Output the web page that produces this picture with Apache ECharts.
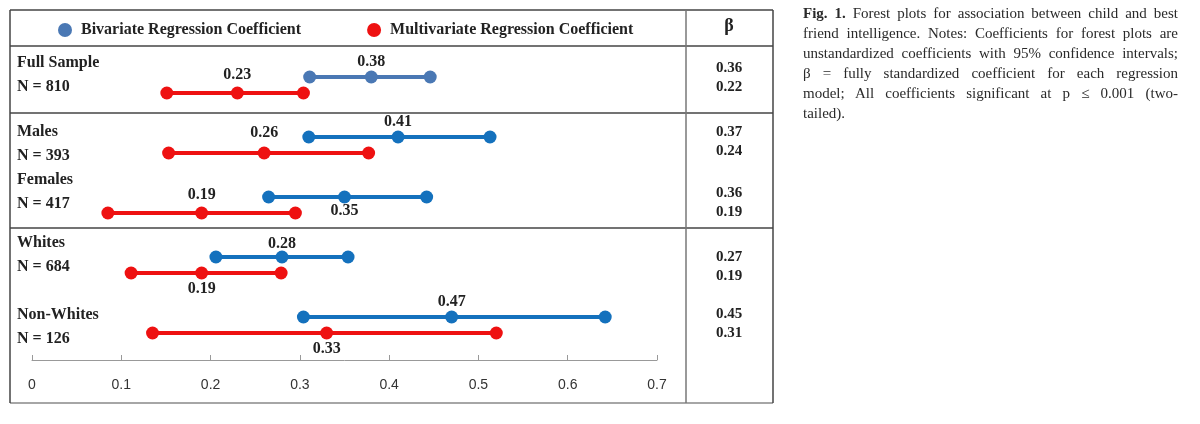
<!DOCTYPE html>
<html>
<head>
<meta charset="utf-8">
<script src="https://cdn.jsdelivr.net/npm/echarts@6/dist/echarts.min.js"></script>
<style>
body{margin:0;background:#fff;}
#main{position:absolute;left:0;top:0;width:1200px;height:424px;}
#cap{position:absolute;left:803px;top:3px;width:375px;font-family:'Liberation Serif','Times New Roman',serif;font-size:15px;line-height:20px;color:#2a2a2a;}
#cap div{white-space:nowrap;text-align:justify;text-align-last:justify;}
#cap div.last{text-align-last:left;}
</style>
</head>
<body>
<div id="main"></div>
<div id="cap">
<div><b>Fig. 1.</b> Forest plots for association between child and best</div>
<div>friend intelligence. Notes: Coefficients for forest plots are</div>
<div>unstandardized coefficients with 95% confidence intervals;</div>
<div>β = fully standardized coefficient for each regression</div>
<div>model; All coefficients significant at p ≤ 0.001 (two-</div>
<div class="last">tailed).</div>
</div>
<script>
// rows of the forest plot
var groups = ['Full Sample', 'Males', 'Females', 'Whites', 'Non-Whites'];
var sizes = ['N = 810', 'N = 393', 'N = 417', 'N = 684', 'N = 126'];

// bivariate coefficient with 95% CI
var bivEst = [0.38, 0.41, 0.35, 0.28, 0.47];
var bivLo = [0.311, 0.310, 0.265, 0.206, 0.304];
var bivHi = [0.446, 0.513, 0.442, 0.354, 0.642];

// multivariate coefficient with 95% CI
var multiEst = [0.23, 0.26, 0.19, 0.19, 0.33];
var multiLo = [0.151, 0.153, 0.085, 0.111, 0.135];
var multiHi = [0.304, 0.377, 0.295, 0.279, 0.520];

// standardized beta column
var betaBiv = ['0.36', '0.37', '0.36', '0.27', '0.45'];
var betaMulti = ['0.22', '0.24', '0.19', '0.19', '0.31'];

// label placement (style only)
var bivLabelDy = [-15, -15, 14, -13, -15];
var multiLabelDy = [-18, -20, -18, 16, 16];
var rowLabelShift = [-10, -1, -13, -10, 2];
var betaShift = [-7.5, -3.5, -2.5, 1.5, -1.5];

var BLUE_FULL = '#4a78b4';
var BLUE = '#1471bd';
var RED = '#ee1111';
var SERIF = "'Liberation Serif', 'Times New Roman', serif";

var myChart = echarts.init(document.getElementById('main'));

function intervalSeries(name, lo, est, hi, dy, labelDy, colorFn, legendColor) {
	var data = [];
	groups.forEach(function(g, i) {
		data.push([lo[i], est[i], hi[i], i]);
	});
	return {
		name: name,
		type: 'custom',
		itemStyle: {color: legendColor},
		encode: {x: [0, 1, 2], y: 3},
		data: data,
		renderItem: function(params, api) {
			var i = api.value(3);
			var a = api.coord([api.value(0), i]);
			var m = api.coord([api.value(1), i]);
			var b = api.coord([api.value(2), i]);
			var y = a[1] + dy;
			var c = colorFn(i);
			var children = [{
				type: 'line',
				shape: {x1: a[0], y1: y, x2: b[0], y2: y},
				style: {stroke: c, lineWidth: 4}
			}];
			[a, m, b].forEach(function(p) {
				children.push({type: 'circle', shape: {cx: p[0], cy: y, r: 6.5}, style: {fill: c}});
			});
			children.push({
				type: 'text', x: m[0], y: y + labelDy[i],
				style: {
					text: api.value(1).toFixed(2), fill: '#222',
					font: 'bold 16px ' + SERIF, align: 'center', verticalAlign: 'middle'
				}
			});
			return {type: 'group', children: children};
		}
	};
}

// table frame
function hline(y, x1, x2, color) {
	return {type: 'line', shape: {x1: x1, y1: y, x2: x2, y2: y}, style: {stroke: color || '#444', lineWidth: 1.5}, z: -1};
}
function vline(x, y1, y2, color) {
	return {type: 'line', shape: {x1: x, y1: y1, x2: x, y2: y2}, style: {stroke: color || '#444', lineWidth: 1.5}, z: -1};
}
var frame = [
	hline(10, 10, 773), hline(46, 10, 773), hline(113, 10, 773), hline(228, 10, 773),
	hline(403, 10, 773, '#888'),
	vline(10, 10, 403), vline(686, 10, 403, '#777'), vline(773, 10, 403),
	{type: 'text', x: 729, y: 26, style: {text: 'β', font: 'bold 18px ' + SERIF, fill: '#222', align: 'center', verticalAlign: 'middle'}}
];

option = {
	animation: false,
	grid: {left: 32, right: 543, top: 55, height: 300},
	legend: {
		data: ['Bivariate Regression Coefficient', 'Multivariate Regression Coefficient'],
		left: 53, top: 17,
		icon: 'circle',
		itemWidth: 14, itemHeight: 14,
		itemGap: 66,
		textStyle: {fontFamily: SERIF, fontWeight: 'bold', fontSize: 16, color: '#222', padding: [0, 0, 0, 4]}
	},
	xAxis: {
		type: 'value', min: 0, max: 0.7, interval: 0.1, offset: 5,
		axisLine: {show: true, onZero: false, lineStyle: {color: '#999', width: 1}},
		axisTick: {show: true, inside: true, length: 5, lineStyle: {color: '#999'}},
		splitLine: {show: false},
		axisLabel: {color: '#333', fontFamily: "'Liberation Sans', Arial, sans-serif", fontSize: 14, margin: 18}
	},
	yAxis: {
		type: 'category', data: groups, inverse: true,
		axisLine: {show: false}, axisTick: {show: false}, axisLabel: {show: false},
		splitLine: {show: false}
	},
	graphic: frame,
	series: [
		intervalSeries('Bivariate Regression Coefficient', bivLo, bivEst, bivHi, -8, bivLabelDy,
			function(i) { return i === 0 ? BLUE_FULL : BLUE; }, BLUE_FULL),
		intervalSeries('Multivariate Regression Coefficient', multiLo, multiEst, multiHi, 8, multiLabelDy,
			function(i) { return RED; }, RED)
	]
};
myChart.setOption(option);

// row labels and beta column placed on the category positions
var extra = frame.slice();
groups.forEach(function(g, i) {
	var yc = myChart.convertToPixel({yAxisIndex: 0}, g);
	extra.push({
		type: 'text', x: 17, y: yc + rowLabelShift[i],
		style: {text: g + '\n' + sizes[i], font: 'bold 16px ' + SERIF, lineHeight: 24, fill: '#222', align: 'left', verticalAlign: 'middle'}
	});
	extra.push({
		type: 'text', x: 729, y: yc + betaShift[i],
		style: {text: betaBiv[i] + '\n' + betaMulti[i], font: 'bold 15px ' + SERIF, lineHeight: 19, fill: '#222', align: 'center', verticalAlign: 'middle'}
	});
});
myChart.setOption({graphic: extra}, {replaceMerge: ['graphic']});
</script>
</body>
</html>
